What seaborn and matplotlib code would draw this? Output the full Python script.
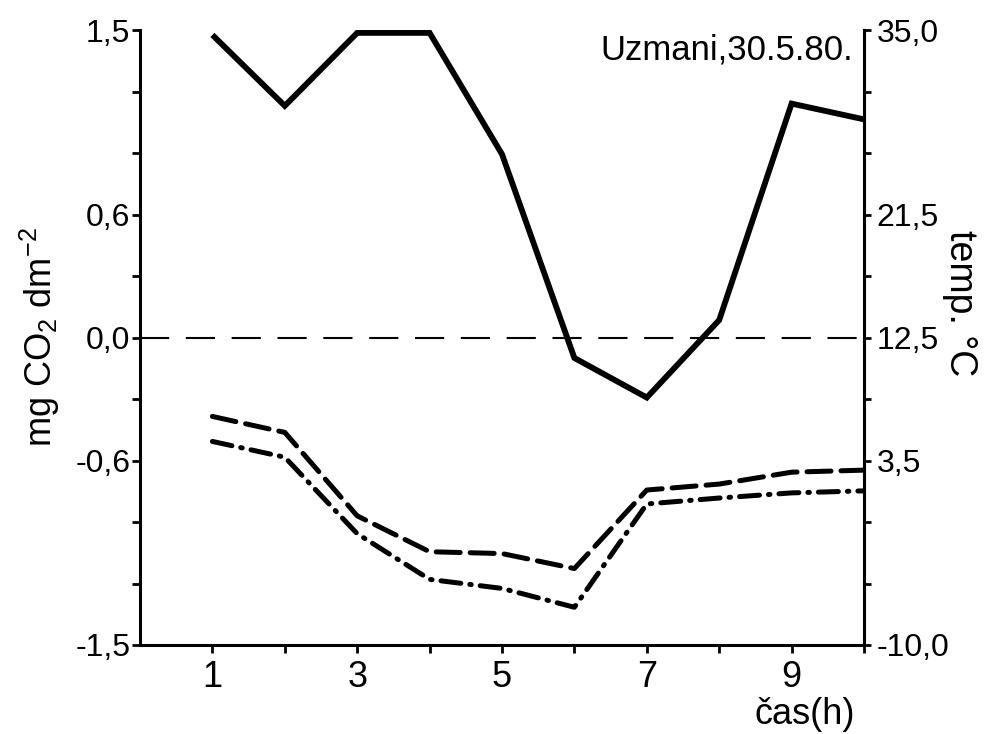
import numpy as np
import pandas as pd
import matplotlib
matplotlib.use("Agg")
import matplotlib.pyplot as plt
import seaborn as sns

hours = [1, 2, 3, 4, 5, 6, 7, 8, 9, 10]
solid_vals = [1.476, 1.13, 1.486, 1.486, 0.894, -0.10, -0.293, 0.085, 1.141, 1.064]
dashed_vals = [-0.385, -0.463, -0.87, -1.045, -1.054, -1.127, -0.744, -0.715, -0.657, -0.647]
dashdot_vals = [-0.507, -0.584, -0.957, -1.18, -1.224, -1.316, -0.812, -0.783, -0.758, -0.748]

left_ticks = [1.5, 0.6, 0.0, -0.6, -1.5]
left_labels = ["1,5", "0,6", "0,0", "-0,6", "-1,5"]
right_ticks = [35.0, 21.5, 12.5, 3.5, -10.0]
right_labels = ["35,0", "21,5", "12,5", "3,5", "-10,0"]
x_ticks = [1, 3, 5, 7, 9]
x_labels = ["1", "3", "5", "7", "9"]

sns.set_style("ticks")
plt.rcParams['font.family'] = ['Liberation Sans', 'DejaVu Sans']
plt.rcParams['mathtext.fontset'] = 'custom'
plt.rcParams['mathtext.rm'] = 'Liberation Sans'
plt.rcParams['mathtext.it'] = 'Liberation Sans'
plt.rcParams['mathtext.bf'] = 'Liberation Sans'
for k in ['text.color', 'axes.labelcolor', 'xtick.color', 'ytick.color', 'axes.edgecolor']:
    plt.rcParams[k] = 'black'

df = pd.DataFrame({"h": hours, "solid": solid_vals, "dashed": dashed_vals, "dashdot": dashdot_vals})

fig = plt.figure(figsize=(9.9, 7.34), dpi=100)
ax = fig.add_axes([140/990, 1-645/734, (864-140)/990, (645-30)/734])

ax.axhline(0.0, color="black", lw=1.5, dashes=(14, 8), zorder=1)
sns.lineplot(data=df, x="h", y="solid", ax=ax, color="black", lw=4.2,
             solid_joinstyle="miter", solid_capstyle="butt")
sns.lineplot(data=df, x="h", y="dashed", ax=ax, color="black", lw=3.6)
ax.lines[-1].set_dashes((4.8, 2.0))
ax.lines[-1].set_dash_capstyle("round")
sns.lineplot(data=df, x="h", y="dashdot", ax=ax, color="black", lw=3.6)
ax.lines[-1].set_dashes((4.0, 1.8, 0.3, 1.8))
ax.lines[-1].set_dash_capstyle("round")

ax.set_xlim(0, 10)
ax.set_ylim(-1.5, 1.5)
ax.set_xticks(x_ticks)
ax.set_xticklabels(x_labels)
ax.set_xticks([2, 4, 6, 8, 10], minor=True)
ax.set_yticks(left_ticks)
ax.set_yticklabels(left_labels)
ax.set_yticks([1.2, 0.9, 0.3, -0.3, -0.9, -1.2], minor=True)
ax.tick_params(axis="both", which="both", direction="out", length=6, width=2, color="black")
ax.tick_params(axis="y", labelsize=23, pad=1)
ax.tick_params(axis="x", labelsize=26, pad=5)
for s in ["left", "bottom", "right"]:
    ax.spines[s].set_visible(True)
    ax.spines[s].set_linewidth(2.2)
    ax.spines[s].set_color("black")
ax.spines["top"].set_visible(False)
ax.set_xlabel("")
ax.set_ylabel("mg CO$_2$ dm$^{-2}$", fontsize=26, va="center")
ax.yaxis.set_label_coords((40 - 140) / 724, 0.5)

ax2 = ax.twinx()
ax2.set_ylim(-10.0, 35.0)
ax2.set_yticks(right_ticks)
ax2.set_yticklabels(right_labels)
ax2.set_yticks([30.5, 26.0, 17.0, 8.0, -1.0, -5.5], minor=True)
ax2.tick_params(axis="y", which="both", direction="out", length=5, width=2, labelsize=23, pad=4)
ax2.spines["top"].set_visible(False)
ax2.spines["left"].set_visible(False)
ax2.spines["bottom"].set_visible(False)
ax2.spines["right"].set_linewidth(2.2)
ax2.set_ylabel("temp. °C", fontsize=27, rotation=-90, va="center")
ax2.yaxis.set_label_coords((960 - 140) / 724, (645 - 303) / 615)

ax.text(0.985, 0.995, "Uzmani,30.5.80.", transform=ax.transAxes, ha="right", va="top", fontsize=25)
fig.text(855/990, 1-714/734, "čas(h)", ha="right", va="center", fontsize=26)

fig.savefig("out.png", dpi=100, facecolor="white")
